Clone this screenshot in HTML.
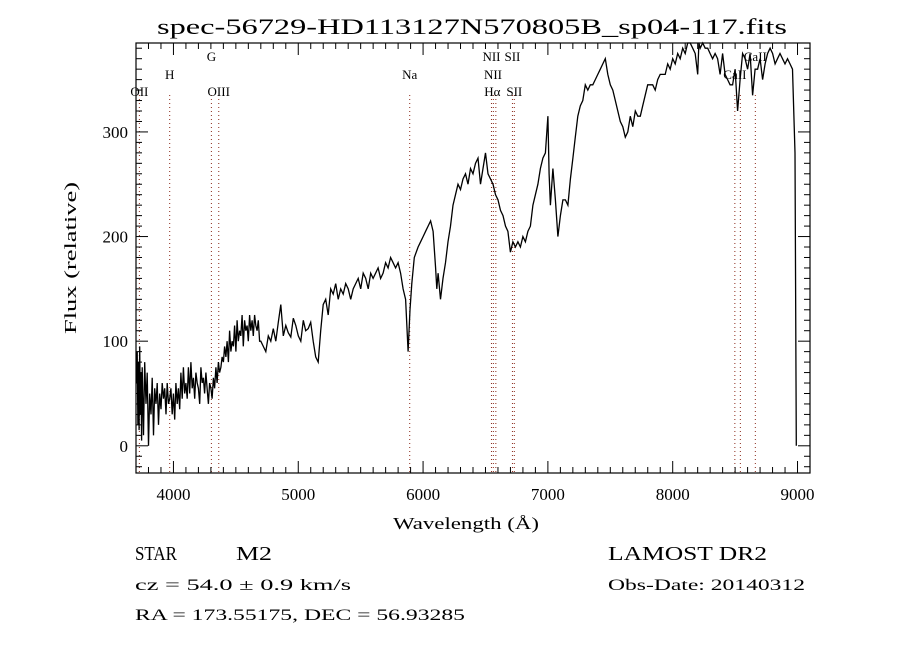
<!DOCTYPE html>
<html><head><meta charset="utf-8"><style>
html,body{margin:0;padding:0;background:#fff;}
svg{display:block;font-family:"Liberation Serif",serif;}
</style></head><body>
<svg id="chart" width="900" height="650" viewBox="0 0 900 650">
<rect x="0" y="0" width="900" height="650" fill="#fff"/>
<text x="472" y="34" font-size="22" text-anchor="middle" textLength="630" lengthAdjust="spacingAndGlyphs">spec-56729-HD113127N570805B_sp04-117.fits</text>
<g id="lines"></g>
<g id="axes"></g>
<path id="spec" fill="none" stroke="#000" stroke-width="1.3"/>
<text x="466" y="529" font-size="17" text-anchor="middle" textLength="146" lengthAdjust="spacingAndGlyphs">Wavelength (Å)</text>
<text transform="translate(76,258) rotate(-90)" font-size="17" text-anchor="middle" textLength="152" lengthAdjust="spacingAndGlyphs">Flux (relative)</text>
<text x="135" y="560" font-size="20" textLength="42" lengthAdjust="spacingAndGlyphs">STAR</text>
<text x="236" y="560" font-size="20" textLength="36" lengthAdjust="spacingAndGlyphs">M2</text>
<text x="608" y="560" font-size="20" textLength="159" lengthAdjust="spacingAndGlyphs">LAMOST DR2</text>
<text x="135" y="590" font-size="16" textLength="216" lengthAdjust="spacingAndGlyphs">cz = 54.0 ± 0.9 km/s</text>
<text x="608" y="590" font-size="16" textLength="197" lengthAdjust="spacingAndGlyphs">Obs-Date: 20140312</text>
<text x="135" y="620" font-size="16" textLength="330" lengthAdjust="spacingAndGlyphs">RA = 173.55175, DEC =  56.93285</text>
</svg>
<script>
const wavelengths=[3705,3710,3715,3720,3725,3730,3735,3740,3745,3750,3755,3760,3770,3780,3790,3800,3810,3820,3830,3840,3850,3860,3870,3880,3890,3900,3910,3920,3930,3940,3950,3960,3970,3980,3990,4000,4010,4020,4030,4040,4050,4060,4070,4080,4090,4100,4110,4120,4130,4140,4150,4160,4170,4180,4190,4200,4210,4220,4230,4240,4250,4260,4270,4280,4290,4300,4310,4320,4330,4340,4350,4360,4370,4380,4390,4400,4410,4420,4430,4440,4450,4460,4470,4480,4490,4500,4510,4520,4530,4540,4550,4560,4570,4580,4590,4600,4610,4620,4630,4640,4650,4660,4670,4680,4690,4700,4720,4740,4760,4780,4800,4820,4840,4860,4880,4900,4920,4940,4960,4980,5000,5020,5040,5060,5080,5100,5120,5140,5160,5180,5200,5220,5240,5260,5280,5300,5320,5340,5360,5380,5400,5420,5440,5460,5480,5500,5520,5540,5560,5580,5600,5620,5640,5660,5680,5700,5720,5740,5760,5780,5800,5820,5840,5860,5880,5895,5910,5930,5960,5980,6000,6020,6040,6060,6080,6100,6110,6120,6140,6160,6180,6200,6220,6240,6260,6280,6300,6320,6340,6360,6380,6400,6420,6440,6460,6480,6500,6520,6540,6560,6580,6600,6620,6640,6660,6680,6700,6720,6740,6760,6780,6800,6820,6840,6860,6880,6900,6920,6940,6960,6980,7000,7010,7020,7040,7060,7080,7100,7120,7140,7160,7180,7200,7220,7240,7260,7280,7300,7320,7340,7360,7380,7400,7420,7440,7460,7480,7500,7520,7540,7560,7580,7600,7620,7640,7660,7680,7700,7720,7740,7760,7780,7800,7820,7840,7860,7880,7900,7920,7940,7960,7980,8000,8020,8040,8060,8080,8100,8120,8140,8160,8180,8200,8210,8220,8240,8260,8280,8300,8320,8340,8360,8380,8400,8420,8440,8460,8480,8500,8520,8540,8560,8580,8600,8620,8640,8660,8680,8700,8720,8740,8760,8780,8800,8820,8840,8860,8880,8900,8920,8940,8960,8980,8990,8995];
const fluxes=[60,90,20,80,15,95,30,70,5,75,40,10,80,40,70,0,50,30,65,10,55,40,60,20,50,35,60,45,55,30,60,40,45,55,30,50,25,60,40,55,35,70,45,75,50,60,45,75,50,80,55,65,45,70,60,55,40,75,60,65,50,70,55,40,60,55,45,65,55,75,60,80,70,75,85,80,95,85,100,80,110,90,100,95,115,90,120,100,110,105,125,95,120,110,115,100,125,110,120,105,125,115,110,120,100,100,95,90,105,100,112,100,118,135,105,115,108,104,122,115,105,100,120,110,112,118,100,85,80,110,135,140,125,150,145,155,140,150,145,155,150,140,150,155,160,150,165,160,150,165,160,165,170,160,165,175,170,180,175,170,175,165,150,140,90,130,155,180,190,195,200,205,210,215,205,170,150,165,140,160,175,195,210,230,240,250,245,255,260,250,265,260,270,275,250,265,280,260,255,250,240,235,225,220,210,205,185,195,190,195,190,200,195,205,210,230,240,250,265,275,280,315,260,230,265,235,200,220,235,235,230,255,275,295,315,325,330,345,340,345,345,350,355,360,365,370,355,345,340,330,320,310,305,295,300,315,305,320,315,315,325,335,345,345,345,340,350,355,355,355,365,360,370,365,375,370,380,375,385,385,380,375,355,385,380,385,380,380,375,370,375,370,355,375,355,350,345,345,360,320,350,375,370,360,375,335,360,360,370,350,365,375,380,375,365,370,375,370,365,370,365,360,280,0];
const lineWaves=[3727,3970,4304,4363,5893,6548,6563,6583,6716,6731,8498,8542,8662];
const lineLabels=[["OII",3727,92],["H",3970,75],["G",4304,57],["OIII",4363,92],["Na",5893,75],["NII",6548,57],["SII",6716,57],["NII",6560,75],["Hα",6555,92],["SII",6731,92],["CaII",8662,57],["CaII",8498,75]];
const xTicks=[4000,5000,6000,7000,8000,9000];
const yTicks=[0,100,200,300];
const X0=136,X1=810,Y0=43,Y1=473,WMIN=3700,WMAX=9100,FMIN=-26,FMAX=385;
const sx=w=>X0+(w-WMIN)/(WMAX-WMIN)*(X1-X0);
const sy=f=>Y1-(f-FMIN)/(FMAX-FMIN)*(Y1-Y0);
const NS='http://www.w3.org/2000/svg';
function mk(tag,attrs,parent){const e=document.createElementNS(NS,tag);for(const k in attrs)e.setAttribute(k,attrs[k]);parent.appendChild(e);return e;}
const axes=document.getElementById('axes');
const frame=mk('rect',{x:X0,y:Y0,width:X1-X0,height:Y1-Y0,fill:'none',stroke:'#000','stroke-width':1.2},axes);


for(let w=3700;w<=9100;w+=100){const x=sx(w);const big=w%1000===0;const L=big?12:6;
 mk('line',{x1:x,x2:x,y1:Y1,y2:Y1-L,stroke:'#000'},axes);mk('line',{x1:x,x2:x,y1:Y0,y2:Y0+L,stroke:'#000'},axes);}
for(let f=-20;f<=380;f+=10){const y=sy(f);const big=f%100===0;const L=big?12:6;
 mk('line',{x1:X0,x2:X0+L,y1:y,y2:y,stroke:'#000'},axes);mk('line',{x1:X1,x2:X1-L,y1:y,y2:y,stroke:'#000'},axes);}
xTicks.forEach(v=>{const t=mk('text',{x:sx(v),y:Y1+27,'font-size':17,'text-anchor':'middle'},axes);t.textContent=v;
 
 });
yTicks.forEach(v=>{const t=mk('text',{x:X0-8,y:sy(v)+6,'font-size':17,'text-anchor':'end'},axes);t.textContent=v;
 
 });
const lg=document.getElementById('lines');
lineWaves.forEach(w=>{const l=mk('line',{x1:sx(w),x2:sx(w),y1:Y0+52,y2:Y1,stroke:'#8b2a1a','stroke-width':1,'stroke-dasharray':'1 3'},lg);
 
 });
lineLabels.forEach(([s,w,y])=>{const t=mk('text',{x:sx(w),y:y+4,'font-size':13,'text-anchor':'middle'},lg);t.textContent=s;
 
 });
let d='';wavelengths.forEach((w,i)=>{const f=Math.max(FMIN,Math.min(FMAX,fluxes[i]));d+=(i?'L':'M')+sx(w).toFixed(1)+' '+sy(f).toFixed(1)+' ';});
document.getElementById('spec').setAttribute('d',d);
</script>
</body></html>
